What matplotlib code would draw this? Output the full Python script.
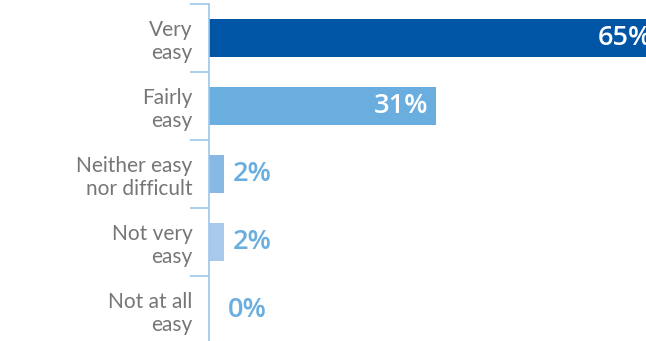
import numpy as np
import matplotlib.pyplot as plt

categories = ['Very\neasy', 'Fairly\neasy', 'Neither easy\nnor difficult', 'Not very\neasy', 'Not at all\neasy']
values = [65, 31, 2, 2, 0]
bar_colors = ['#0055a5', '#6aaee0', '#87b9e4', '#a8c9ec', '#a8c9ec']

W, H = 646, 341
fig = plt.figure(figsize=(W / 100, H / 100), dpi=100)
# axes starts at the spine, runs off the right edge so the long bar is cut
ax = fig.add_axes([209 / W, -3 / H, (W - 209) / W, 340 / H])

y = np.arange(len(categories))
ax.barh(y, values, height=0.55, color=bar_colors, zorder=2)
ax.set_xlim(0, (W - 209) / 7.32)
ax.set_ylim(len(categories) - 0.5, -0.5)

for i, v in enumerate(values):
    if v > 10:
        pad = 1.1 if v < 50 else 4.5
        ax.text(v - pad, i, f'{v}%', ha='right', va='center', color='white',
                fontsize=19.5, fontweight='semibold', family='Open Sans', clip_on=True)
    else:
        pad = 1.2 if v > 0 else 2.6
        ax.text(v + pad, i, f'{v}%', ha='left', va='center', color='#6aaee0',
                fontsize=19.5, fontweight='semibold', family='Open Sans')

ax.set_yticks(y)
ax.set_yticklabels(categories, fontsize=15, color='#767676', family='Lato',
                   linespacing=1.2, ha='right')
ax.tick_params(axis='y', which='major', length=0, pad=12)
ax.set_yticks(np.arange(-0.5, len(categories), 1), minor=True)
ax.tick_params(axis='y', which='minor', length=14, width=1.2, color='#9cc6ea')
ax.set_xticks([])

for s in ['top', 'right', 'bottom']:
    ax.spines[s].set_visible(False)
ax.spines['left'].set_color('#9cc6ea')
ax.spines['left'].set_linewidth(1.2)

fig.savefig('out.png', dpi=100)
